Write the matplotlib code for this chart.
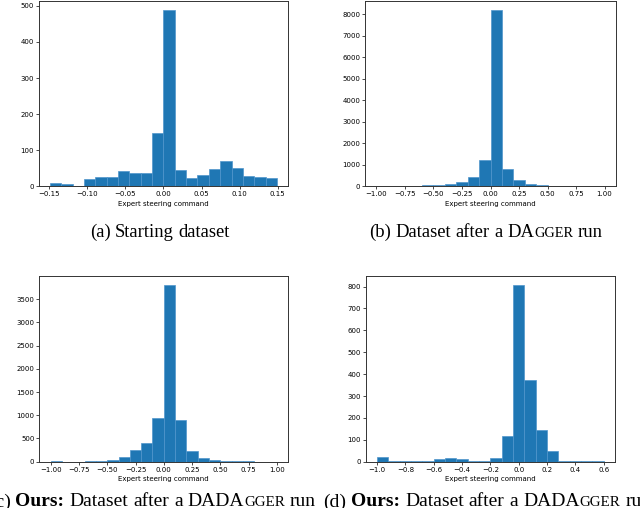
import numpy as np
import matplotlib
matplotlib.use('Agg')
import matplotlib.pyplot as plt
from matplotlib.transforms import IdentityTransform

counts_a = [9, 6, 2, 20, 27, 27, 42, 38, 36, 147, 489, 46, 24, 31, 47, 69, 50, 28, 27, 24]
range_a = (-0.149, 0.149)
xticks_a = [-0.15, -0.10, -0.05, 0.00, 0.05, 0.10, 0.15]
yticks_a = [0, 100, 200, 300, 400, 500]

counts_b = [30, 5, 5, 10, 55, 70, 100, 220, 450, 1240, 8200, 820, 280, 110, 40, 15, 5, 3, 2, 5]
range_b = (-1.0, 1.0)
xticks_b = [-1.00, -0.75, -0.50, -0.25, 0.00, 0.25, 0.50, 0.75, 1.00]
yticks_b = [0, 1000, 2000, 3000, 4000, 5000, 6000, 7000, 8000]

counts_c = [5, 3, 3, 5, 20, 30, 110, 245, 410, 950, 3810, 905, 237, 80, 30, 15, 12, 10, 3, 3]
range_c = (-1.0, 1.0)
xticks_c = [-1.00, -0.75, -0.50, -0.25, 0.00, 0.25, 0.50, 0.75, 1.00]
yticks_c = [0, 500, 1000, 1500, 2000, 2500, 3000, 3500]

counts_d = [20, 3, 3, 3, 5, 12, 16, 12, 5, 5, 16, 118, 808, 373, 145, 49, 5, 5, 3, 3]
range_d = (-1.0, 0.6)
xticks_d = [-1.0, -0.8, -0.6, -0.4, -0.2, 0.0, 0.2, 0.4, 0.6]
yticks_d = [0, 100, 200, 300, 400, 500, 600, 700, 800]

xlabel = 'Expert steering command'

fig = plt.figure(figsize=(6.4, 5.08), dpi=100)

# положение осей в пикселях: левый край, правый, верх, низ
boxes = [(38.5, 288.3, 1.0, 186.3),
         (365.0, 616.0, 1.0, 186.3),
         (39.3, 288.3, 276.0, 461.7),
         (365.7, 615.0, 276.0, 461.7)]
panels = [(counts_a, range_a, xticks_a, yticks_a),
          (counts_b, range_b, xticks_b, yticks_b),
          (counts_c, range_c, xticks_c, yticks_c),
          (counts_d, range_d, xticks_d, yticks_d)]

W, H = 640.0, 508.0
for (l, r, t, b), (counts, rng, xt, yt) in zip(boxes, panels):
    ax = fig.add_axes([l / W, 1 - b / H, (r - l) / W, (b - t) / H])
    edges = np.linspace(rng[0], rng[1], len(counts) + 1)
    centers = (edges[:-1] + edges[1:]) / 2
    ax.hist(centers, bins=edges, weights=counts, color='#1f77b4',
            edgecolor='#4f95cc', linewidth=0.5)
    ax.set_xticks(xt)
    ax.set_yticks(yt)
    ax.tick_params(labelsize=5, length=2, width=0.5, pad=1.5)
    ax.set_xlabel(xlabel, fontsize=5, labelpad=2.5)
    for s in ax.spines.values():
        s.set_linewidth(0.7)
        s.set_color('#333333')

# Подписи под рисунками (с капителью для DAGGER)
serif = 'Liberation Serif'
renderer = fig.canvas.get_renderer()


def caption(pieces, x, y, align='left', space=4.6):
    # pieces: (текст, размер, жирность, пробел перед словом)
    texts = []
    cx = 0.0
    for s, size, weight, gap in pieces:
        cx += space if gap else 0
        txt = fig.text(cx, H - y, s, fontsize=size, fontweight=weight, family=serif,
                       transform=IdentityTransform(), va='baseline', ha='left')
        texts.append(txt)
        cx += txt.get_window_extent(renderer).width
    if align == 'center':
        x0 = x - cx / 2
    elif align == 'right':
        x0 = x - cx
    else:
        x0 = x
    for txt in texts:
        px, py = txt.get_position()
        txt.set_position((px + x0, py))


def words(label, big, small):
    out = [(label, big, 'normal', False), ('Ours:', big, 'bold', True)]
    for w in ['Dataset', 'after', 'a']:
        out.append((w, big, 'normal', True))
    out.append(('DADA', big, 'normal', True))
    out.append(('GGER', small, 'normal', False))
    out.append(('run', big, 'normal', True))
    return out


big, small = 13.4, 10.3
caption([('(a)', big, 'normal', False), ('Starting', big, 'normal', True),
         ('dataset', big, 'normal', True)], 160, 237, 'center')
caption([('(b)', big, 'normal', False), ('Dataset', big, 'normal', True),
         ('after', big, 'normal', True), ('a', big, 'normal', True),
         ('DA', big, 'normal', True), ('GGER', small, 'normal', False),
         ('run', big, 'normal', True)], 486, 237, 'center')
caption(words('(c)', 14, 10.8), 316, 506.5, 'right', space=5.0)
caption(words('(d)', 14, 10.8), 323, 506.5, 'left', space=5.0)

plt.savefig('out.png', dpi=100)
